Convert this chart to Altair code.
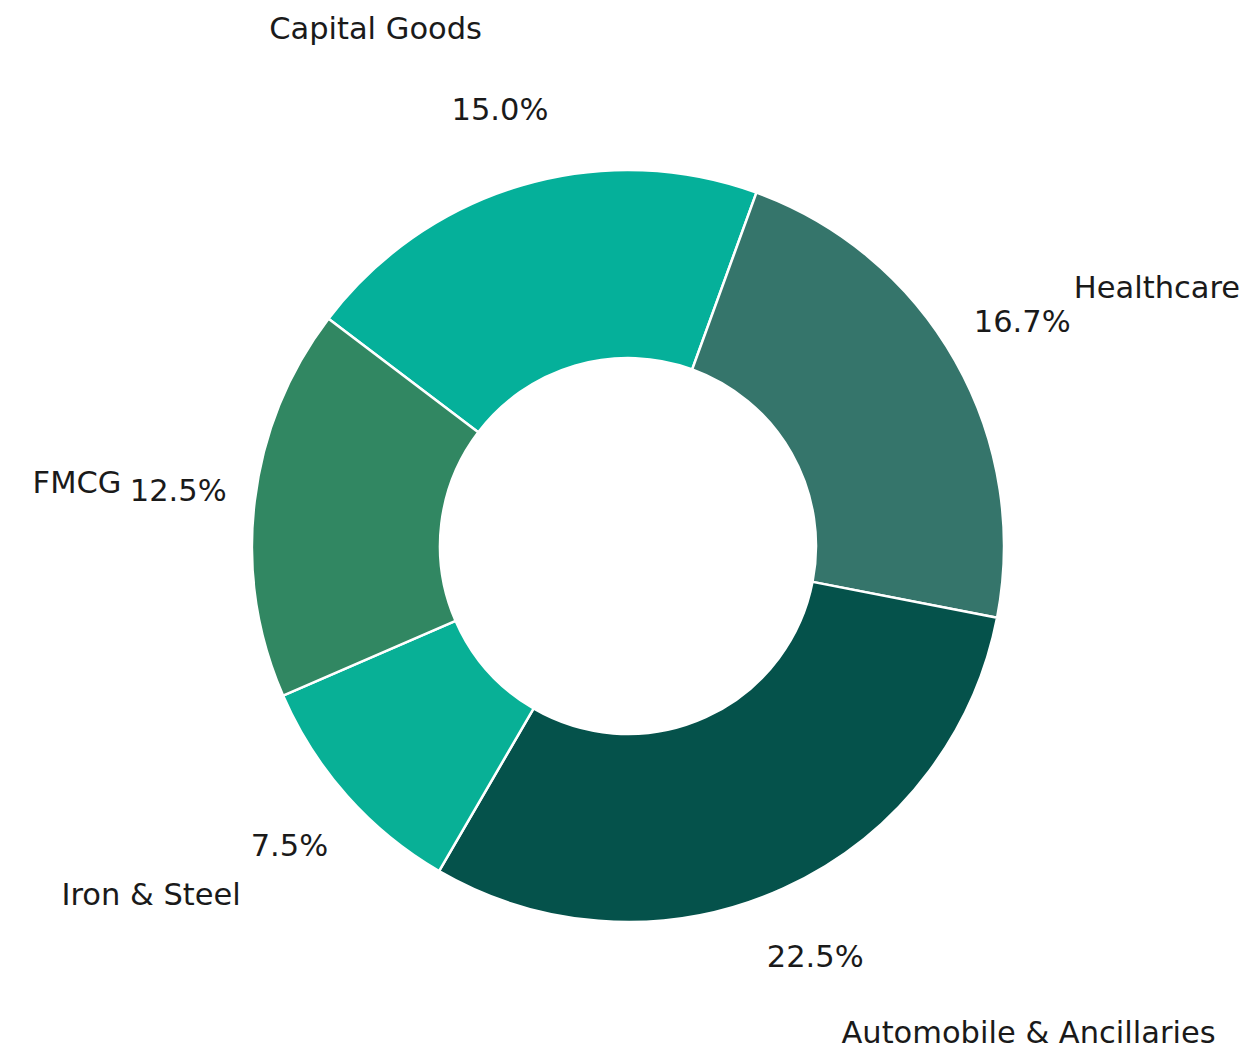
import math
import altair as alt
import pandas as pd

# ---- data ----
categories = ["Capital Goods", "Healthcare", "Automobile & Ancillaries", "Iron & Steel", "FMCG"]
values = [15.0, 16.7, 22.5, 7.5, 12.5]
colors = ["#05B09A", "#35756B", "#05524B", "#08B096", "#318762"]

# ---- layout ----
START_RAD = 307.2 * math.pi / 180
OUTER = 376
INNER = 188
PCT_R = 453
LABEL_RX = 516
LABEL_RY = 540
FONT = "DejaVu Sans"
FS = 30.5

df = pd.DataFrame({"category": categories, "value": values,
                   "order": list(range(len(categories)))})

base = (
    alt.Chart(df)
    .transform_window(cum="sum(value)", sort=[alt.SortField("order")], frame=[None, 0])
    .transform_joinaggregate(total="sum(value)")
    .transform_calculate(t0=f"(datum.cum - datum.value) / datum.total * 2 * PI + {START_RAD}")
    .transform_calculate(t1=f"datum.cum / datum.total * 2 * PI + {START_RAD}")
    .transform_calculate(mid="(datum.t0 + datum.t1) / 2")
    .transform_calculate(
        lr=f"1 / sqrt(pow(sin(datum.mid) / {LABEL_RX}, 2) + pow(cos(datum.mid) / {LABEL_RY}, 2))"
    )
    .transform_calculate(pct="format(datum.value, '.1f') + '%'")
    .transform_calculate(side="sin(datum.mid) >= 0 ? 'right' : 'left'")
)

arcs = base.mark_arc(radius=OUTER, radius2=INNER, stroke="white", strokeWidth=2.5).encode(
    theta=alt.Theta("t0:Q", scale=None, stack=None),
    theta2="t1:Q",
    color=alt.Color("category:N", scale=alt.Scale(domain=categories, range=colors), legend=None),
)

pct = base.mark_text(radius=PCT_R, font=FONT, fontSize=FS, color="#1a1a1a",
                     align="center", baseline="middle").encode(
    theta=alt.Theta("mid:Q", scale=None, stack=None),
    text="pct:N",
)

names_right = base.transform_filter("datum.side == 'right'").mark_text(
    font=FONT, fontSize=FS, color="#1a1a1a", align="left", baseline="middle", dx=-8).encode(
    theta=alt.Theta("mid:Q", scale=None, stack=None),
    radius=alt.Radius("lr:Q", scale=None),
    text="category:N",
)

names_left = base.transform_filter("datum.side == 'left'").mark_text(
    font=FONT, fontSize=FS, color="#1a1a1a", align="right", baseline="middle", dx=6).encode(
    theta=alt.Theta("mid:Q", scale=None, stack=None),
    radius=alt.Radius("lr:Q", scale=None),
    text="category:N",
)

chart = (
    alt.layer(arcs, pct, names_right, names_left)
    .properties(
        width=1200,
        height=980,
        autosize=alt.AutoSizeParams(type="none"),
        padding={"left": 20, "top": 48, "right": 13, "bottom": 11},
        background="white",
    )
    .configure_view(stroke=None)
)

chart.save("out.html", embed_options={"renderer": "svg", "actions": False})
